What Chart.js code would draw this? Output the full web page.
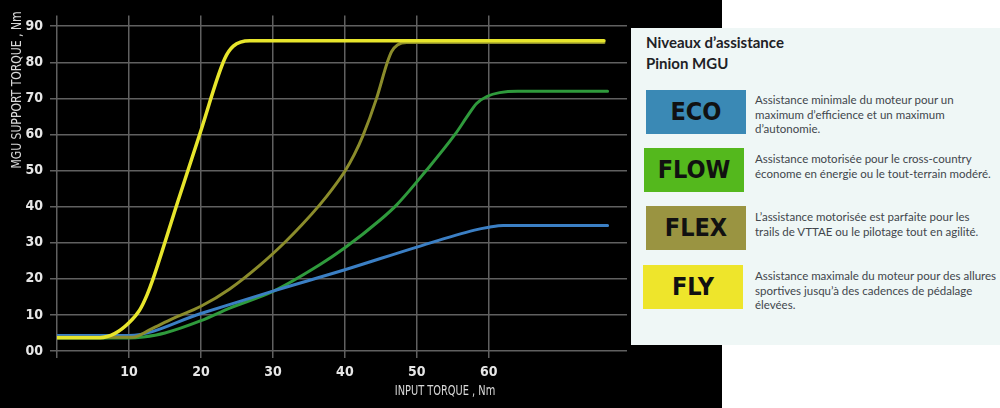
<!DOCTYPE html>
<html>
<head>
<meta charset="utf-8">
<script src="https://cdn.jsdelivr.net/npm/chart.js@4"></script>
<style>
  html, body { margin: 0; padding: 0; background: #fff; }
  #wrap { position: relative; width: 1000px; height: 408px; overflow: hidden; }
  #dark { position: absolute; left: 0; top: 0; width: 722px; height: 408px; background: #000; }
  #myChart { position: absolute; left: 0; top: 0; }
  #panel { position: absolute; left: 631px; top: 28px; width: 369px; height: 317px; background: #eff7f6; font-family: Lato, sans-serif; }
  #panel h3 { position: absolute; left: 15px; top: 4px; margin: 0; font-size: 15px; line-height: 21px; font-weight: bold; color: #1e2226; }
  .box { position: absolute; width: 100px; height: 44px; font-family: "DejaVu Sans Condensed", "DejaVu Sans", sans-serif; font-stretch: condensed; font-weight: bold; font-size: 25px; line-height: 44px; text-align: center; color: #111; }
  .desc { position: absolute; left: 124px; font-size: 11.5px; line-height: 14.5px; color: #41464c; white-space: nowrap; }
</style>
</head>
<body>
<div id="wrap">
  <div id="dark"></div>
  <canvas id="myChart" width="631" height="408"></canvas>
  <div id="panel"></div>
</div>
<script>
// values: x = input torque (Nm), y = support torque (Nm)
const levels = ['ECO', 'FLOW', 'FLEX', 'FLY'];
const lineColors = ['#3b7fc4', '#2f9a3c', '#8b8c2b', '#e7e52c'];
const boxColors = ['#3a89b5', '#54b81d', '#9a9441', '#eee52b'];
const descriptions = [
    'Assistance minimale du moteur pour un<br>maximum d’efficience et un maximum<br>d’autonomie.',
    'Assistance motorisée pour le cross-country<br>économe en énergie ou le tout-terrain modéré.',
    'L’assistance motorisée est parfaite pour les<br>trails de VTTAE ou le pilotage tout en agilité.',
    'Assistance maximale du moteur pour des allures<br>sportives jusqu’à des cadences de pédalage<br>élevées.'
];

const ecoX = [0, 10, 20, 30, 40, 50, 58, 60, 62, 76.5];
const ecoY = [4.3, 4.3, 10.4, 16.6, 22.5, 28.8, 33.5, 34.3, 34.8, 34.8];

const flowX = [0, 10, 12, 15, 20, 24, 30, 36.5, 40, 44.9, 47.2, 51.3, 55.3, 57, 58.3, 59.8, 61.5, 64, 76.5];
const flowY = [3.6, 3.6, 3.9, 5, 8.4, 11.9, 16.5, 23.9, 28.6, 36.3, 40.5, 50, 60, 65, 68.6, 70.6, 71.6, 72, 72];

const flexX = [0, 10.5, 13, 16, 20, 24, 28.2, 31.6, 34, 36.5, 38.3, 40, 41.3, 42.5, 44.4, 45.9, 46.5, 47.3, 48.6, 76];
const flexY = [3.8, 3.8, 6, 8.9, 12.4, 17.2, 23.8, 30, 34.9, 40.5, 45, 49.8, 54.4, 59.6, 70, 80, 83, 84.8, 85.5, 85.5];

const flyX = [0, 6, 8, 10, 11.5, 12.5, 13.3, 16.8, 19.9, 23.3, 24.5, 26.8, 76];
const flyY = [3.7, 3.7, 4.8, 7.8, 11.4, 15.5, 19.7, 41.5, 60.5, 81, 84.5, 86, 86];

const xTicks = [0, 10, 20, 30, 40, 50, 60];
const xTickLabels = ['', '10', '20', '30', '40', '50', '60'];
const yTicks = [0, 10, 20, 30, 40, 50, 60, 70, 80, 90];
const yTickLabels = ['00', '10', '20', '30', '40', '50', '60', '70', '80', '90'];

const xTitle = 'INPUT TORQUE , Nm';
const yTitle = 'MGU SUPPORT TORQUE , Nm';
const panelTitle = 'Niveaux d’assistance<br>Pinion MGU';

const fontCond = '"DejaVu Sans Condensed", "DejaVu Sans", sans-serif';

function pts(xs, ys) {
    return xs.map((x, i) => ({ x: x, y: ys[i] }));
}

// legend panel on the right
let panel = document.getElementById('panel');
let html = '<h3>' + panelTitle + '</h3>';
const boxTops = [62, 120, 178, 237];
const boxLefts = [15, 13, 15, 12];
const descTops = [65, 124, 182, 241];
levels.forEach((name, i) => {
    html += '<div class="box" style="left:' + boxLefts[i] + 'px;top:' + boxTops[i] + 'px;background:' + boxColors[i] + '">' + name + '</div>';
    html += '<div class="desc" style="top:' + descTops[i] + 'px">' + descriptions[i] + '</div>';
});
panel.innerHTML = html;

// axis titles are not centred on the plot in the original, so draw them by hand
const axisTitles = {
    id: 'axisTitles',
    afterDraw(chart) {
        const c = chart.ctx;
        c.save();
        c.fillStyle = '#d8d8d8';
        c.textAlign = 'center';
        c.textBaseline = 'middle';
        c.font = '14px ' + fontCond;
        c.save();
        c.translate(445, 391);
        c.scale(0.78, 1);
        c.fillText(xTitle, 0, 0);
        c.restore();
        c.translate(17, 90);
        c.rotate(-Math.PI / 2);
        c.scale(0.86, 1);
        c.fillText(yTitle, 0, 0);
        c.restore();
    }
};

const sets = [
    { d: pts(flyX, flyY), c: 3, w: 3.5 },
    { d: pts(flexX, flexY), c: 2, w: 3 },
    { d: pts(ecoX, ecoY), c: 0, w: 3 },
    { d: pts(flowX, flowY), c: 1, w: 3 }
];

const ctx = document.getElementById('myChart');
const myChart = new Chart(ctx, {
    type: 'scatter',
    data: {
        datasets: sets.map(s => ({
            label: levels[s.c],
            data: s.d,
            showLine: true,
            borderColor: lineColors[s.c],
            borderWidth: s.w,
            pointRadius: 0,
            cubicInterpolationMode: 'monotone',
            borderCapStyle: 'round'
        }))
    },
    options: {
        responsive: false,
        animation: false,
        layout: { padding: { top: 14, right: 4, left: 0, bottom: 0 } },
        plugins: { legend: { display: false }, tooltip: { enabled: false } },
        scales: {
            x: {
                type: 'linear',
                min: 0,
                max: 79.2,
                afterBuildTicks: s => { s.ticks = xTicks.map(v => ({ value: v })); },
                afterFit: s => { s.height = 57; },
                ticks: {
                    callback: (v, i) => xTickLabels[i],
                    color: '#e6e6e6',
                    font: { family: fontCond, size: 14, weight: 'bold' },
                    padding: 6,
                    maxRotation: 0,
                    autoSkip: false
                },
                grid: { color: '#606060', lineWidth: 1.5, tickLength: 7 },
                border: { display: false }
            },
            y: {
                min: 0,
                max: 93,
                afterBuildTicks: s => { s.ticks = yTicks.map(v => ({ value: v })); },
                afterFit: s => { s.width = 57; },
                ticks: {
                    callback: (v, i) => yTickLabels[i],
                    color: '#e6e6e6',
                    font: { family: fontCond, size: 14, weight: 'bold' },
                    padding: 7,
                    autoSkip: false
                },
                grid: { color: '#606060', lineWidth: 1.5, tickLength: 7 },
                border: { display: false }
            }
        }
    },
    plugins: [axisTitles]
});
</script>
</body>
</html>
